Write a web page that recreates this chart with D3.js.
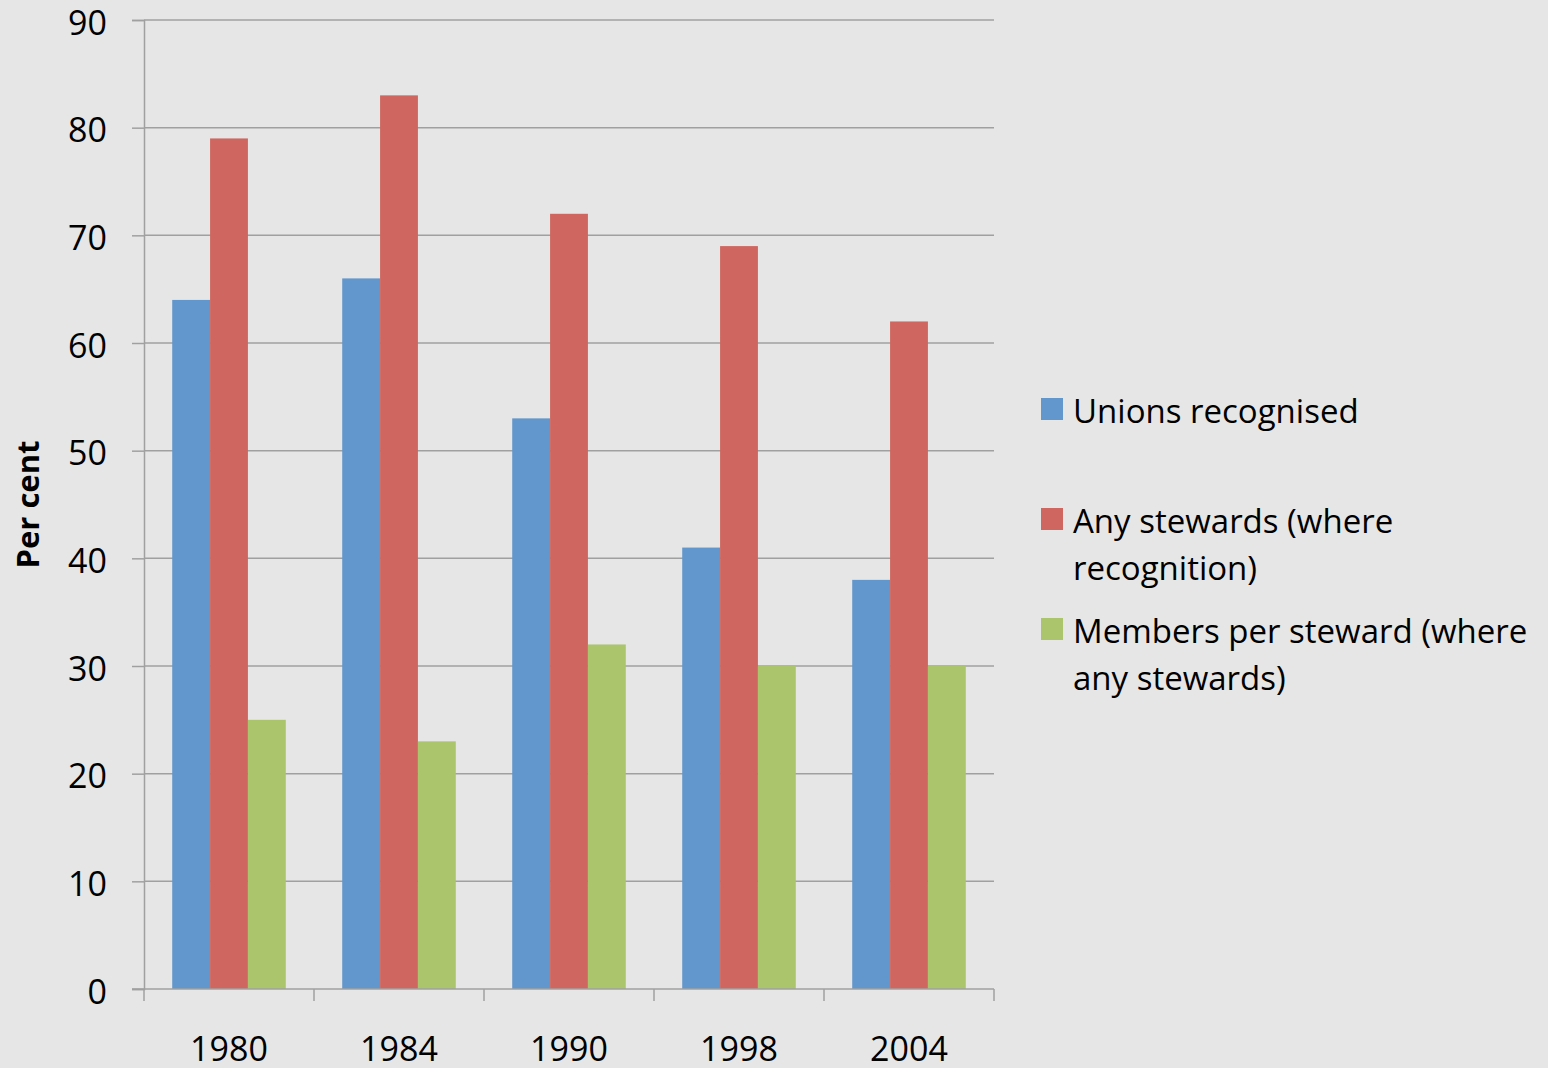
<!DOCTYPE html>
<html>
<head>
<meta charset="utf-8">
<script src="https://cdn.jsdelivr.net/npm/d3@7"></script>
<style>
  html, body { margin: 0; padding: 0; background: #e6e6e6; }
  svg { display: block; }
</style>
</head>
<body>
<div id="chart"></div>
<script>
// survey years and series
const years = ["1980", "1984", "1990", "1998", "2004"];
const seriesNames = [
    "Unions recognised",
    "Any stewards (where recognition)",
    "Members per steward (where any stewards)"
];
const unionsRecognised = [64, 66, 53, 41, 38];
const anyStewards = [79, 83, 72, 69, 62];
const membersPerSteward = [25, 23, 32, 30, 30];
const yTicks = [0, 10, 20, 30, 40, 50, 60, 70, 80, 90];

// legend lines, wrapped as in the picture
const legendLines = [
    ["Unions recognised"],
    ["Any stewards (where", "recognition)"],
    ["Members per steward (where", "any stewards)"]
];

const COLOURS = ["#6197cc", "#cf665f", "#abc56c"];
const FONT = "'Open Sans', sans-serif";

const width = 1548, height = 1068;
const plot = {left: 144, right: 994, top: 20, bottom: 989};

const seriesValues = [unionsRecognised, anyStewards, membersPerSteward];
const data = years.map((y, i) => ({
    year: y,
    values: seriesNames.map((s, j) => ({key: s, idx: j, value: seriesValues[j][i]}))
}));

const svg = d3.select("#chart").append("svg")
    .attr("width", width)
    .attr("height", height);

svg.append("rect")
    .attr("width", width)
    .attr("height", height)
    .attr("fill", "#e6e6e6");

const x0 = d3.scaleBand().domain(years).range([plot.left, plot.right]).padding(0);
const bw = x0.bandwidth();
const x1 = d3.scaleBand().domain(seriesNames).range([bw * 0.166, bw * 0.834]).padding(0);
const y = d3.scaleLinear().domain([0, 90]).range([plot.bottom, plot.top]);

// gridlines + y axis
const yAxis = svg.append("g")
    .attr("transform", `translate(${plot.left},0)`)
    .call(d3.axisLeft(y).tickValues(yTicks).tickSize(12).tickPadding(25));
yAxis.select(".domain").attr("stroke", "#a0a0a0").attr("stroke-width", 1.5);
yAxis.selectAll(".tick line").attr("stroke", "#a0a0a0").attr("stroke-width", 1.5);
yAxis.selectAll(".tick text")
    .attr("font-family", FONT)
    .attr("font-size", 34)
    .attr("dy", "0.42em")
    .attr("fill", "#000");

svg.append("g")
    .selectAll("line")
    .data(yTicks.filter(d => d > 0))
    .join("line")
    .attr("x1", plot.left)
    .attr("x2", plot.right)
    .attr("y1", d => y(d))
    .attr("y2", d => y(d))
    .attr("stroke", "#a0a0a0")
    .attr("stroke-width", 1.5);

// bars
const groups = svg.append("g")
    .selectAll("g")
    .data(data)
    .join("g")
    .attr("transform", d => `translate(${x0(d.year)},0)`);

groups.selectAll("rect")
    .data(d => d.values)
    .join("rect")
    .attr("x", d => x1(d.key))
    .attr("width", x1.bandwidth())
    .attr("y", d => y(d.value))
    .attr("height", d => y(0) - y(d.value))
    .attr("fill", d => COLOURS[d.idx]);

// x axis with ticks at category boundaries
const xAxis = svg.append("g")
    .attr("transform", `translate(0,${plot.bottom})`);
xAxis.append("line")
    .attr("x1", plot.left - 12)
    .attr("x2", plot.right)
    .attr("stroke", "#a0a0a0")
    .attr("stroke-width", 1.5);
const bounds = years.map(d => x0(d)).concat([x0(years[years.length - 1]) + bw]);
xAxis.selectAll(".bound")
    .data(bounds)
    .join("line")
    .attr("class", "bound")
    .attr("x1", d => d)
    .attr("x2", d => d)
    .attr("y1", 0)
    .attr("y2", 12)
    .attr("stroke", "#a0a0a0")
    .attr("stroke-width", 1.5);
xAxis.selectAll(".lab")
    .data(years)
    .join("text")
    .attr("class", "lab")
    .attr("x", d => x0(d) + bw / 2)
    .attr("y", 72)
    .attr("text-anchor", "middle")
    .attr("font-family", FONT)
    .attr("font-size", 34)
    .text(d => d);

// y axis title
svg.append("text")
    .attr("transform", `translate(39,${(plot.top + plot.bottom) / 2}) rotate(-90)`)
    .attr("text-anchor", "middle")
    .attr("font-family", FONT)
    .attr("font-weight", "bold")
    .attr("font-size", 31)
    .text("Per cent");

// legend
const legendTop = [398, 508, 618];
const legend = svg.append("g");
legendLines.forEach((lines, i) => {
    legend.append("rect")
        .attr("x", 1041)
        .attr("y", legendTop[i])
        .attr("width", 22)
        .attr("height", 22)
        .attr("fill", COLOURS[i]);
    lines.forEach((t, k) => {
        legend.append("text")
            .attr("x", 1073)
            .attr("y", legendTop[i] + 25 + k * 47)
            .attr("font-family", FONT)
            .attr("font-size", 33)
            .text(t);
    });
});
</script>
</body>
</html>
